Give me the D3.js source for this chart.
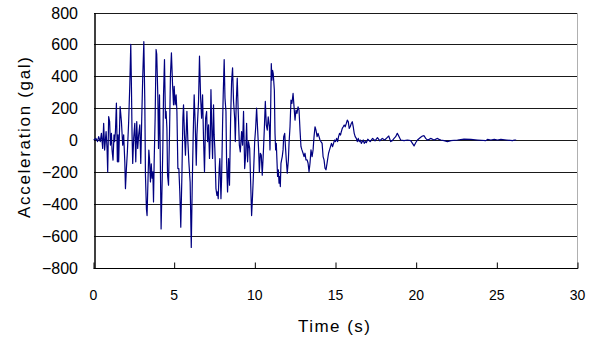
<!DOCTYPE html>
<html><head><meta charset="utf-8">
<script src="https://cdn.jsdelivr.net/npm/d3@7"></script>
<style>body{margin:0;background:#fff}svg{display:block}</style>
</head><body>
<script>
const xTicks = [0, 5, 10, 15, 20, 25, 30];
const yTicks = [-800, -600, -400, -200, 0, 200, 400, 600, 800];
const xTitle = "Time (s)";
const yTitle = "Acceleration (gal)";
const timeS = [0.01,0.15,0.25,0.32,0.42,0.49,0.57,0.63,0.69,0.78,0.84,0.88,0.94,1.00,1.05,1.11,1.15,1.21,1.27,1.31,1.36,1.42,1.48,1.52,1.56,1.65,1.73,1.81,1.87,1.94,1.98,2.04,2.10,2.18,2.25,2.31,2.35,2.39,2.43,2.49,2.56,2.62,2.68,2.74,2.80,2.87,2.93,2.99,3.05,3.12,3.18,3.22,3.28,3.32,3.38,3.43,3.47,3.53,3.58,3.63,3.68,3.72,3.76,3.82,3.88,3.92,3.99,4.03,4.09,4.13,4.19,4.26,4.30,4.34,4.40,4.46,4.50,4.55,4.59,4.65,4.71,4.77,4.83,4.90,4.96,5.00,5.06,5.12,5.17,5.23,5.29,5.35,5.41,5.48,5.54,5.58,5.64,5.70,5.79,5.85,5.91,5.99,6.06,6.12,6.18,6.24,6.30,6.37,6.41,6.51,6.57,6.64,6.70,6.76,6.82,6.88,6.95,7.01,7.07,7.13,7.19,7.24,7.28,7.32,7.38,7.44,7.48,7.52,7.59,7.65,7.69,7.73,7.79,7.83,7.90,7.94,8.00,8.04,8.10,8.15,8.21,8.25,8.31,8.37,8.43,8.50,8.56,8.62,8.68,8.75,8.79,8.85,8.91,8.97,9.04,9.10,9.14,9.18,9.24,9.30,9.37,9.43,9.49,9.55,9.61,9.68,9.74,9.80,9.86,9.93,9.99,10.05,10.11,10.17,10.24,10.28,10.34,10.40,10.46,10.53,10.59,10.65,10.71,10.77,10.83,10.90,10.94,10.98,11.02,11.06,11.10,11.14,11.21,11.25,11.29,11.33,11.37,11.41,11.46,11.50,11.54,11.58,11.62,11.66,11.70,11.75,11.79,11.85,11.91,11.95,12.01,12.08,12.12,12.18,12.24,12.30,12.37,12.43,12.49,12.55,12.61,12.68,12.74,12.80,12.86,12.92,12.99,13.05,13.11,13.17,13.24,13.30,13.36,13.42,13.48,13.55,13.61,13.67,13.73,13.79,13.86,13.92,13.98,14.04,14.10,14.17,14.23,14.29,14.35,14.41,14.47,14.53,14.57,14.63,14.69,14.75,14.82,14.88,14.94,15.00,15.07,15.13,15.19,15.25,15.31,15.36,15.42,15.48,15.54,15.60,15.67,15.73,15.79,15.85,15.91,15.98,16.04,16.10,16.16,16.22,16.29,16.35,16.41,16.47,16.53,16.60,16.66,16.72,16.78,16.85,16.91,17.00,17.15,17.30,17.45,17.60,17.75,17.90,18.05,18.20,18.30,18.42,18.52,18.63,18.73,18.83,18.94,19.04,19.25,19.46,19.66,19.77,19.87,19.97,20.08,20.28,20.39,20.49,20.59,20.70,20.80,20.90,21.11,21.32,21.42,21.53,21.73,21.94,22.15,22.56,22.97,23.39,23.80,24.32,24.42,24.63,24.84,25.04,25.25,25.60,25.98,26.08,26.20];
const accelGal = [0,10,-10,21,-10,42,-53,105,-63,53,-53,-200,147,116,-32,42,-63,-126,32,-10,53,232,-137,32,-137,210,116,-32,32,-137,-305,-179,-74,116,347,600,347,32,-147,10,105,-137,116,-53,32,95,-147,137,389,617,242,-221,-432,-474,-242,-63,-116,-263,-150,-240,-200,-389,-137,137,568,537,263,-53,284,-32,-558,-242,-32,284,505,137,179,74,-221,-284,32,410,547,347,221,337,221,284,179,-179,-179,-326,-547,-221,137,221,32,-95,179,-10,-137,-263,-674,-284,32,284,116,-158,32,242,526,263,137,284,10,-200,137,179,-10,95,-116,32,316,116,-116,221,32,-53,-305,-347,-326,-368,-179,-116,-368,-242,95,284,505,263,179,-137,-326,-116,-284,137,368,453,242,137,-10,242,389,179,-32,-74,-10,53,-32,179,-179,-95,105,-137,-10,-53,-263,-474,-347,-179,-10,74,200,74,-74,-200,-84,-95,-221,-74,74,242,95,62,146,83,-62,187,479,375,437,417,312,42,-62,-21,-125,-229,-187,-271,-229,-292,-146,-125,-104,-62,21,42,-62,-125,-208,-125,-21,83,250,229,292,208,125,187,167,208,187,62,-42,-62,-83,-104,-83,-125,-125,-146,-198,-146,-62,-104,-62,21,83,62,21,42,21,0,-10,-21,-104,-125,-177,-187,-150,-110,-83,-62,-42,-21,-42,-21,0,-10,10,-10,21,42,31,52,73,83,94,83,104,125,115,73,83,104,115,83,42,21,10,-10,10,-10,0,-21,-10,0,-21,-10,-17,5,-10,10,-5,15,-5,10,0,15,25,-10,-4,10,21,42,21,0,-4,0,-4,-21,-37,-17,0,17,25,27,10,0,4,10,0,10,4,0,-4,-10,-4,0,6,4,0,-4,4,0,4,0,4,0,-4,0,0];

const W = 595, H = 338;
const svg = d3.select("body").append("svg").attr("width", W).attr("height", H)
  .style("font-family", "'Liberation Sans', Arial, sans-serif");
const x = d3.scaleLinear().domain([0, 30]).range([93.5, 577.5]);
const y = d3.scaleLinear().domain([-800, 800]).range([267.5, 12.5]);

// gridlines
svg.append("g").selectAll("line").data(yTicks).join("line")
  .attr("x1", x(0)).attr("x2", x(30))
  .attr("y1", d => Math.round(y(d)) + 0.5).attr("y2", d => Math.round(y(d)) + 0.5)
  .attr("stroke", "#1a1a1a").attr("stroke-width", 1).attr("shape-rendering", "crispEdges");
// right border
svg.append("line").attr("x1", 577.5).attr("x2", 577.5).attr("y1", y(800)).attr("y2", y(-800))
  .attr("stroke", "#b0b0b0").attr("shape-rendering", "crispEdges");

// axes
const xAxis = d3.axisBottom(x).tickValues(xTicks).tickSize(-6).tickFormat("");
const gx = svg.append("g").attr("transform", `translate(0,${Math.round(y(-800)) + 0.5})`).call(xAxis);
gx.select(".domain").attr("stroke", "#000").attr("d", `M${x(0)},0H${x(30)}`);
gx.selectAll(".tick line").attr("stroke", "#000");
const yAxis = d3.axisLeft(y).tickValues(yTicks).tickSize(0).tickFormat("");
const gy = svg.append("g").attr("transform", `translate(${Math.round(x(0)) + 0.5},0)`).call(yAxis);
gy.select(".domain").attr("stroke", "#000").attr("stroke-width", 1.5);

// tick labels
svg.append("g").selectAll("text").data(xTicks).join("text")
  .attr("x", d => x(d)).attr("y", 300).attr("text-anchor", "middle")
  .attr("font-size", 14).attr("fill", "#000").text(d => d);
svg.append("g").selectAll("text").data(yTicks).join("text")
  .attr("x", 78).attr("y", d => y(d) + 6).attr("text-anchor", "end")
  .attr("font-size", 16).attr("fill", "#000").text(d => d < 0 ? "\u2212" + Math.abs(d) : d);

// titles
svg.append("text").attr("x", 334).attr("y", 332).attr("text-anchor", "middle")
  .attr("font-size", 17).attr("textLength", 72).attr("lengthAdjust", "spacing").text(xTitle);
svg.append("text").attr("transform", "translate(30,137.5) rotate(-90)").attr("text-anchor", "middle")
  .attr("font-size", 17).attr("textLength", 161).attr("lengthAdjust", "spacing").text(yTitle);

// trace
const line = d3.line().x(d => x(d[0])).y(d => y(d[1]));
svg.append("path").datum(timeS.map((t, i) => [t, accelGal[i]]))
  .attr("d", line).attr("fill", "none").attr("stroke", "#000080").attr("stroke-width", 1.2)
  .attr("stroke-linejoin", "round");
</script>
</body></html>
